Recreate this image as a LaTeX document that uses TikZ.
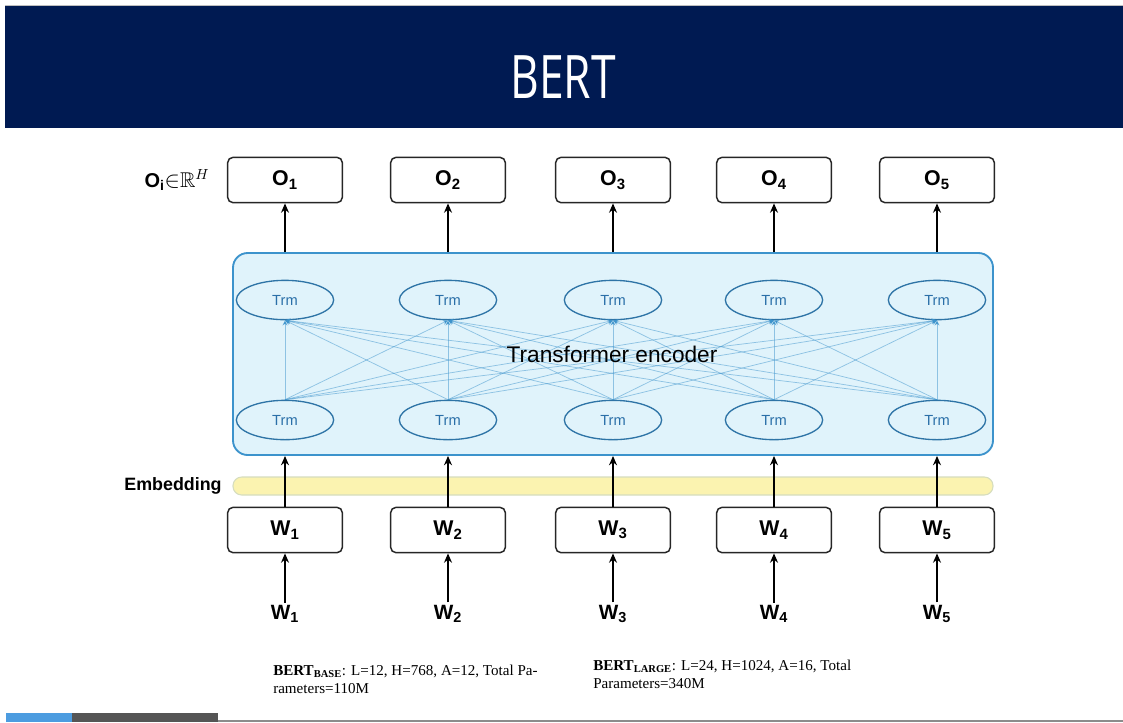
\documentclass[tikz,border=0pt]{standalone}
\usepackage{fontspec}
\usepackage{amssymb}
\setmainfont{Liberation Serif}
\setsansfont{Liberation Sans}
\newfontfamily\titlefont{Open Sans}
\usetikzlibrary{arrows.meta,shapes.geometric,calc}

\definecolor{navy}{HTML}{001A52}
\definecolor{encfill}{HTML}{E0F3FB}
\definecolor{encline}{HTML}{3C93CC}
\definecolor{trmline}{HTML}{2E74A6}
\definecolor{trmtext}{HTML}{2A6FA8}
\definecolor{embfill}{HTML}{FBF3B0}
\definecolor{embline}{HTML}{D6DDBE}
\definecolor{barblue}{HTML}{4C9CE0}
\definecolor{bargray}{HTML}{555555}

\tikzset{
  tokbox/.style={draw=black!85, line width=1.1pt, rounded corners=4pt, fill=white,
    minimum width=86pt, minimum height=34pt, inner sep=0pt,
    font=\sffamily\bfseries\fontsize{16}{18}\selectfont},
  trm/.style={ellipse, draw=trmline, line width=1pt, fill=encfill,
    minimum width=73pt, minimum height=29.5pt, inner sep=0pt,
    text=trmtext, font=\sffamily\fontsize{11}{12}\selectfont},
  attn/.style={draw=encline, draw opacity=0.5, line width=0.55pt,
    -{Stealth[length=4pt,width=4pt]}},
  uparrow/.style={draw=black, line width=1.1pt, -{Stealth[length=7pt,width=6pt]}},
  inlabel/.style={font=\sffamily\bfseries\fontsize{15.5}{17}\selectfont},
  note/.style={font=\rmfamily\fontsize{11.3}{13.5}\selectfont, align=left, anchor=north west, inner sep=0pt}
}

\begin{document}
\begin{tikzpicture}[x=0.75pt, y=-0.75pt]
\useasboundingbox (0,0) rectangle (1123,722);
\fill[white] (0,0) rectangle (1123,722);

% title band
\fill[navy] (5,5) rectangle (1123,128);
\draw[black!25, line width=0.5pt] (5,5) -- (1123,5);
\node[text=white, font=\titlefont\fontsize{45}{50}\selectfont] (title) at (563,77) {\scalebox{0.74}[1]{BERT}};

% output tokens
\foreach \i/\x in {1/285, 2/448, 3/613, 4/774, 5/937} {
  \node[tokbox] (o\i) at (\x,180) {O\textsubscript{\i}};
}
\node[font=\sffamily\bfseries\fontsize{15}{17}\selectfont] (olabel) at (177,180) {O\textsubscript{i}{\normalfont\fontsize{16}{18}\selectfont${\in}\mathbb{R}^{H}$}};

% embedding strip
\node[draw=embline, line width=0.8pt, fill=embfill, rounded corners=6.5pt,
      minimum width=570pt, minimum height=13.5pt, inner sep=0pt] (emb) at (613,486) {};
\node[font=\sffamily\bfseries\fontsize{13.4}{15}\selectfont] (emblabel) at (173,486) {Embedding};

% transformer encoder block
\node[draw=encline, line width=1.4pt, fill=encfill, rounded corners=11pt,
      minimum width=570pt, minimum height=151.5pt, inner sep=0pt] (enc) at (613,354) {};

\foreach \i/\x in {1/285, 2/448, 3/613, 4/774, 5/937} {
  \node[trm] (t\i) at (\x,300) {Trm};
  \node[trm] (b\i) at (\x,420) {Trm};
}
\foreach \i in {1,...,5} {
  \foreach \j in {1,...,5} {
    \draw[attn] (b\i.north) -- (t\j.south);
  }
}
\node[font=\sffamily\fontsize{17}{19}\selectfont] (enclabel) at (612,354) {Transformer encoder};

% input tokens
\foreach \i/\x in {1/285, 2/448, 3/613, 4/774, 5/937} {
  \node[tokbox] (w\i) at (\x,530) {W\textsubscript{\i}};
  \node[inlabel] (in\i) at (\x,614) {W\textsubscript{\i}};
  \draw[uparrow] ($(in\i.north)+(0,2)$) -- (w\i.south);
  \draw[uparrow] (w\i.north) -- (w\i |- enc.south);
  \draw[uparrow] (o\i |- enc.north) -- (o\i.south);
}

% model sizes
\node[note] (base) at (273,665) {\textbf{BERT}\textsubscript{\textbf{BASE}}: L=12, H=768, A=12, Total Pa-\\rameters=110M};
\node[note] (large) at (593,660) {\textbf{BERT}\textsubscript{\textbf{LARGE}}: L=24, H=1024, A=16, Total\\Parameters=340M};

% footer bar
\fill[barblue] (6,713) rectangle (72,722);
\fill[bargray] (72,713) rectangle (218,722);
\draw[black!45, line width=0.8pt] (218,721) -- (1123,721);
\end{tikzpicture}
\end{document}
